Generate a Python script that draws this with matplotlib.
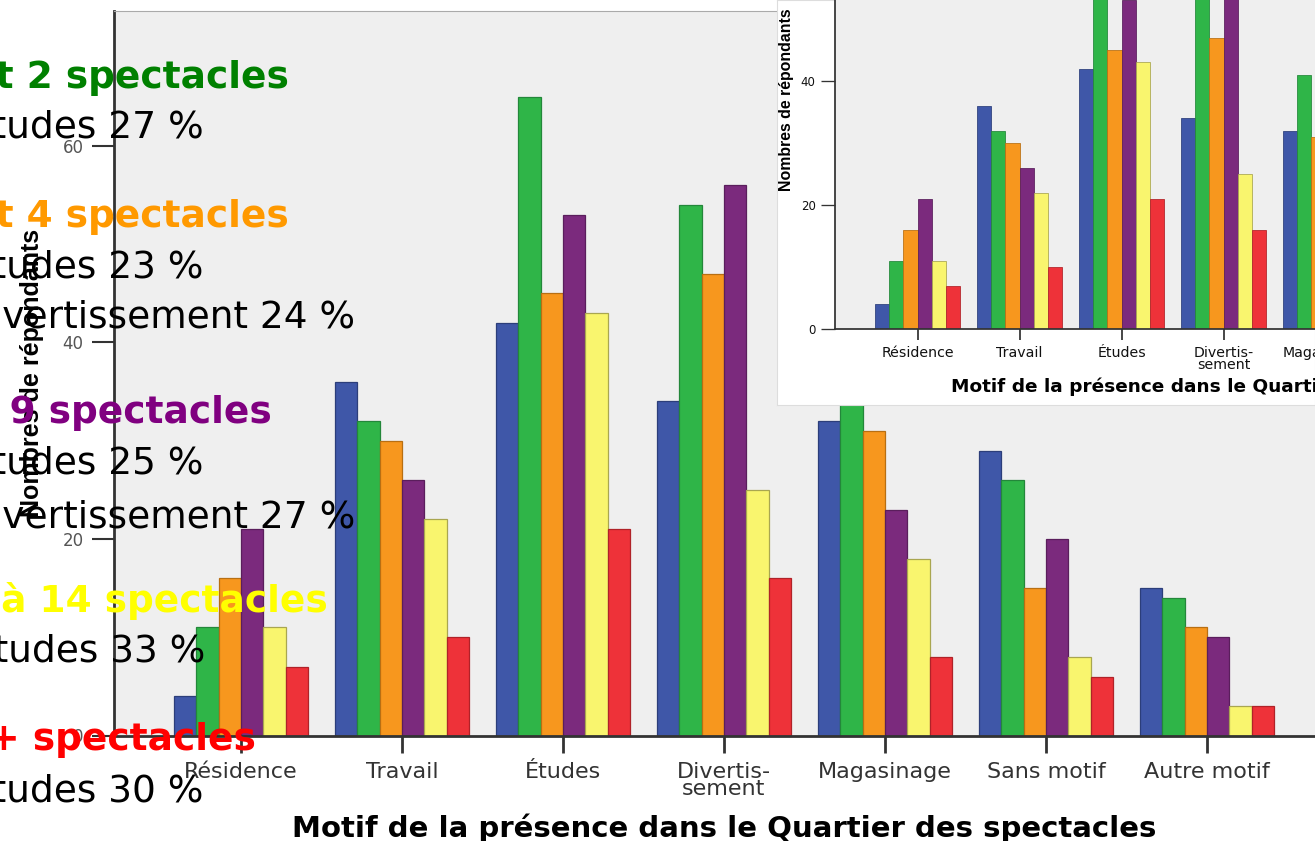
import matplotlib
matplotlib.use('Agg')
import matplotlib.pyplot as plt
import numpy as np

# Donnees
motifs = ['Résidence', 'Travail', 'Études', 'Divertis-\nsement',
          'Magasinage', 'Sans motif', 'Autre motif']
groupes = ['1 spectacle', '1 et 2 spectacles', '3 et 4 spectacles',
           '5 à 9 spectacles', '10 à 14 spectacles', '15 + spectacles']
val_bleu = [4, 36, 42, 34, 32, 29, 15]
val_vert = [11, 32, 65, 54, 41, 26, 14]
val_orange = [16, 30, 45, 47, 31, 15, 11]
val_violet = [21, 26, 53, 56, 23, 20, 10]
val_jaune = [11, 22, 43, 25, 18, 8, 3]
val_rouge = [7, 10, 21, 16, 8, 6, 3]
series = [val_bleu, val_vert, val_orange, val_violet, val_jaune, val_rouge]
y_ticks = [0, 20, 40, 60]

# Texte de la diapositive
lignes = [
    ('1 et 2 spectacles', '#008000', 'bold'),
    ('Études 27 %', 'black', 'normal'),
    ('3 et 4 spectacles', '#FF9900', 'bold'),
    ('Études 23 %', 'black', 'normal'),
    ('Divertissement 24 %', 'black', 'normal'),
    ('5 à 9 spectacles', '#800080', 'bold'),
    ('Études 25 %', 'black', 'normal'),
    ('Divertissement 27 %', 'black', 'normal'),
    ('10 à 14 spectacles', '#FFFF00', 'bold'),
    ('Études 33 %', 'black', 'normal'),
    ('15 + spectacles', '#FF0000', 'bold'),
    ('Études 30 %', 'black', 'normal'),
]
# position (bord droit, ligne de base) en pixels
pos_lignes = [(289, 88), (204, 137), (289, 227), (204, 277), (355, 328),
              (272, 423), (204, 474), (355, 527), (328, 612), (205, 662),
              (256, 750), (204, 802)]

couleurs = ['#3F57A8', '#2FB548', '#F7971E', '#7B2A7D', '#F9F56E', '#EE3239']
bords = ['#2c3e7a', '#23873a', '#b86f12', '#5a1e5c', '#a9a650', '#b02228']

W, H = 1315, 841
fig = plt.figure(figsize=(W / 100, H / 100), dpi=100)
fig.patch.set_facecolor('white')


def px(x0, y0, x1, y1):
    return [x0 / W, (H - y1) / H, (x1 - x0) / W, (y1 - y0) / H]


def trace(ax, s, xlim, ylim):
    x = np.arange(len(motifs))
    larg = 0.1385
    for i, (v, c, b) in enumerate(zip(series, couleurs, bords)):
        ax.bar(x + (i - 2.5) * larg, v, width=larg, color=c, edgecolor=b,
               linewidth=0.9 * s, label=groupes[i], zorder=2)
    ax.set_facecolor('#efefef')
    ax.set_xticks(x)
    ax.set_xticklabels(motifs, fontsize=16 * s, linespacing=0.8,
                       family='DejaVu Sans')
    ax.set_yticks(y_ticks)
    # limites apres les ticks (set_ticks elargit la vue)
    ax.set_xlim(*xlim)
    ax.set_ylim(*ylim)
    for side in ['left', 'bottom']:
        ax.spines[side].set_color('#333333')
        ax.spines[side].set_linewidth(2 * s)
    ax.spines['right'].set_visible(False)
    ax.tick_params(axis='x', length=12 * s, width=2 * s, pad=7 * s,
                   color='#333333')
    ax.tick_params(axis='y', length=16 * s, width=1.5 * s, pad=6 * s,
                   color='#333333', labelsize=12 * s)


# Graphique principal
ax = fig.add_axes(px(114, 11, 1315, 735.5))
trace(ax, 1.0, (-0.789, 6.671), (0, 73.74))
ax.spines['top'].set_color('#aaaaaa')
ax.tick_params(axis='x', labelcolor='#333333')
ax.tick_params(axis='y', labelcolor='#555555')
ax.set_ylabel('Nombres de répondants', fontsize=18, fontweight='bold',
              family='Liberation Sans')
ax.yaxis.set_label_coords(-0.058, 0.5)
ax.set_xlabel('Motif de la présence dans le Quartier des spectacles',
              fontsize=21, fontweight='bold', family='DejaVu Sans')
ax.xaxis.set_label_coords((724 - 114) / 1201, -0.107)

# Encart (copie reduite du graphique), coupe au bord droit
fond = fig.add_axes(px(777, 0, 1315, 405), zorder=2)
fond.set_facecolor('white')
fond.set_xticks([])
fond.set_yticks([])
for sp in fond.spines.values():
    sp.set_color('#dddddd')
    sp.set_linewidth(0.8)

s = 0.633
ax_in = fig.add_axes(px(835, 0, 1380, 329), zorder=3)
trace(ax_in, s, (-0.809, 4.534), (0, 53.06))
ax_in.spines['top'].set_visible(False)
ax_in.tick_params(labelcolor='#111111')
ax_in.tick_params(axis='y', labelsize=8.5)
ax_in.set_ylabel('Nombres de répondants', fontsize=18 * s, fontweight='bold',
                 family='Liberation Sans')
ax_in.yaxis.set_label_coords(-0.075, 0.696)
fig.text(951 / W, 1 - 387 / H,
         'Motif de la présence dans le Quartier des spectacles',
         fontsize=21 * s, fontweight='bold', family='DejaVu Sans',
         ha='left', va='center', zorder=4)

# Texte de la diapositive par-dessus
for (txt, col, wt), (xr, yb) in zip(lignes, pos_lignes):
    fig.text(xr / W, 1 - yb / H, txt, color=col, fontweight=wt,
             fontsize=27, family='DejaVu Sans', ha='right',
             va='baseline', zorder=10)

fig.savefig('out.png', dpi=100)
